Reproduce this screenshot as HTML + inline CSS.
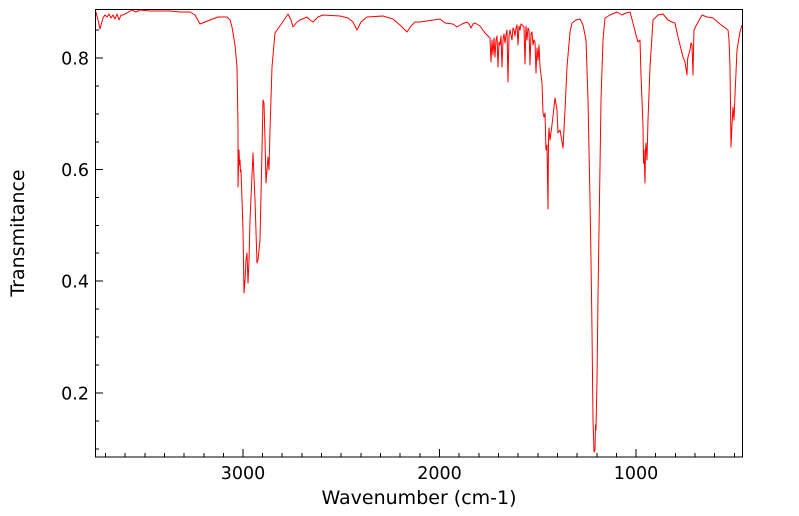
<!DOCTYPE html>
<html><head><meta charset="utf-8"><style>
html,body{margin:0;padding:0;background:#fff;}
svg{display:block;font-family:"DejaVu Sans","Liberation Sans",sans-serif;}
</style></head><body>
<svg width="799" height="516" viewBox="0 0 799 516" xmlns="http://www.w3.org/2000/svg">
<rect x="0" y="0" width="799" height="516" fill="#fff"/>
<g stroke="#000" stroke-width="1" fill="none">
<rect x="95.5" y="9.5" width="647" height="447.5"/>
<path d="M243 457v-8M439.5 457v-8M636 457v-8"/>
<path d="M105.5 457v-4M125 457v-4M145 457v-4M164.5 457v-4M184 457v-4M204 457v-4M223.5 457v-4M262.5 457v-4M282 457v-4M302 457v-4M321.5 457v-4M341 457v-4M361 457v-4M380.5 457v-4M400 457v-4M420 457v-4M459 457v-4M479 457v-4M498.5 457v-4M518 457v-4M538 457v-4M557.5 457v-4M577 457v-4M597 457v-4M616.5 457v-4M655.5 457v-4M675.5 457v-4M695 457v-4M714.5 457v-4M734.5 457v-4"/>
<path d="M95 58h8M95 169.5h8M95 281h8M95 393h8"/>
<path d="M95 30h4M95 86h4M95 114h4M95 142h4M95 197.5h4M95 225.5h4M95 253h4M95 309h4M95 337h4M95 365h4M95 421h4M95 449h4"/>
</g>
<g font-size="17.5" fill="#000">
<text x="89" y="64.5" text-anchor="end">0.8</text>
<text x="89" y="176" text-anchor="end">0.6</text>
<text x="89" y="287.5" text-anchor="end">0.4</text>
<text x="89" y="399.5" text-anchor="end">0.2</text>
<text x="243" y="479" text-anchor="middle">3000</text>
<text x="439.5" y="479" text-anchor="middle">2000</text>
<text x="636" y="479" text-anchor="middle">1000</text>
<text x="419" y="504" text-anchor="middle" font-size="19">Wavenumber (cm-1)</text>
<text transform="translate(24,233) rotate(-90)" text-anchor="middle" font-size="19">Transmitance</text>
</g>
<polyline fill="none" stroke="#ff0000" stroke-width="1" stroke-linejoin="round" points="
96,12 98,20 100,29 103,18 105,15 107,17 109,14 111,18 113,15 115,19 117,14 119,20 121,15 123,15 127,13 132,10 136,12 140,10 150,11 160,11 170,11 180,12 190,12 195,15 200,24 205,22 210,20 218,17 227,17 230,20 232,27 235,45 237,67 238,127 238,187 239,150 239.5,165 240,160 240.5,172 241,170 243,230 244,293 245,280 246,260 247,253 248,283 249,260 250,220 253,153 255,200 257,263 258,260 260,240 262,150 263,100 264,103 265,140 266,183 267,170 268,157 269,170 270,130 272,67 275,33 282,23 288,14 291,20 293,27 297,22 300,20 307,17 310,20 313,22 318,17 323,15 340,16 348,18 353,22 357,30 361,22 367,17 383,16 393,19 400,25 404,29 407,32 411,26 415,22 420,22 440,19 445,23 453,24 457,27 462,24 467,22 469,24 471,28 473,24 475,23 480,26 485,33 489,37 490,38 491,62 492,40 493,55 494,38 495,57 496,40 497,36 498,67 499,42 500,45 501,36 502,67 503,40 504,34 505,43 506,35 507,30 508,82 509,36 510,30 511,35 512,40 513,28 514,30 515,36 516,28 517,25 518,45 519,26 520,30 521,24 522,25 523,26 524,27 525,64 526,26 527,40 528,28 529,30 530,65 531,34 532,32 533,45 534,40 535,42 536,73 537,48 538,60 539,45 540,67 542,83 543,113 544,117 545,113 546,150 547,145 548,209 548.5,140 549,128 550,140 552,125 555,98 557,110 558,133 560,130 563,148 565,110 567,67 570,32 572,23 576,20 580,19 583,25 586,40 587,70 588,100 590,200 591,260 592,330 593,420 594,452 595,450 595.5,425 596,430 597,380 598,297 599,230 600,167 601,100 603,40 605,18 610,15 617,12 622,15 626,13 630,12 633,23 636,35 638,42 640,40 641,75 642,100 643,127 643.5,163 644,150 645,183 645.5,150 646,143 647,160 648,120 650,67 653,20 658,15 663,14 668,20 672,22 675,23 678,37 680,45 683,57 685,62 687,75 687.5,60 688,57 690,50 691,43 692,45 693,75 693.5,50 694,30 697,24 702,15 707,17 713,18 720,24 728,30 729,40 730,67 731,147 732,125 733,107 734,120 735,95 737,50 740,32 742,25"/>
</svg>
</body></html>
